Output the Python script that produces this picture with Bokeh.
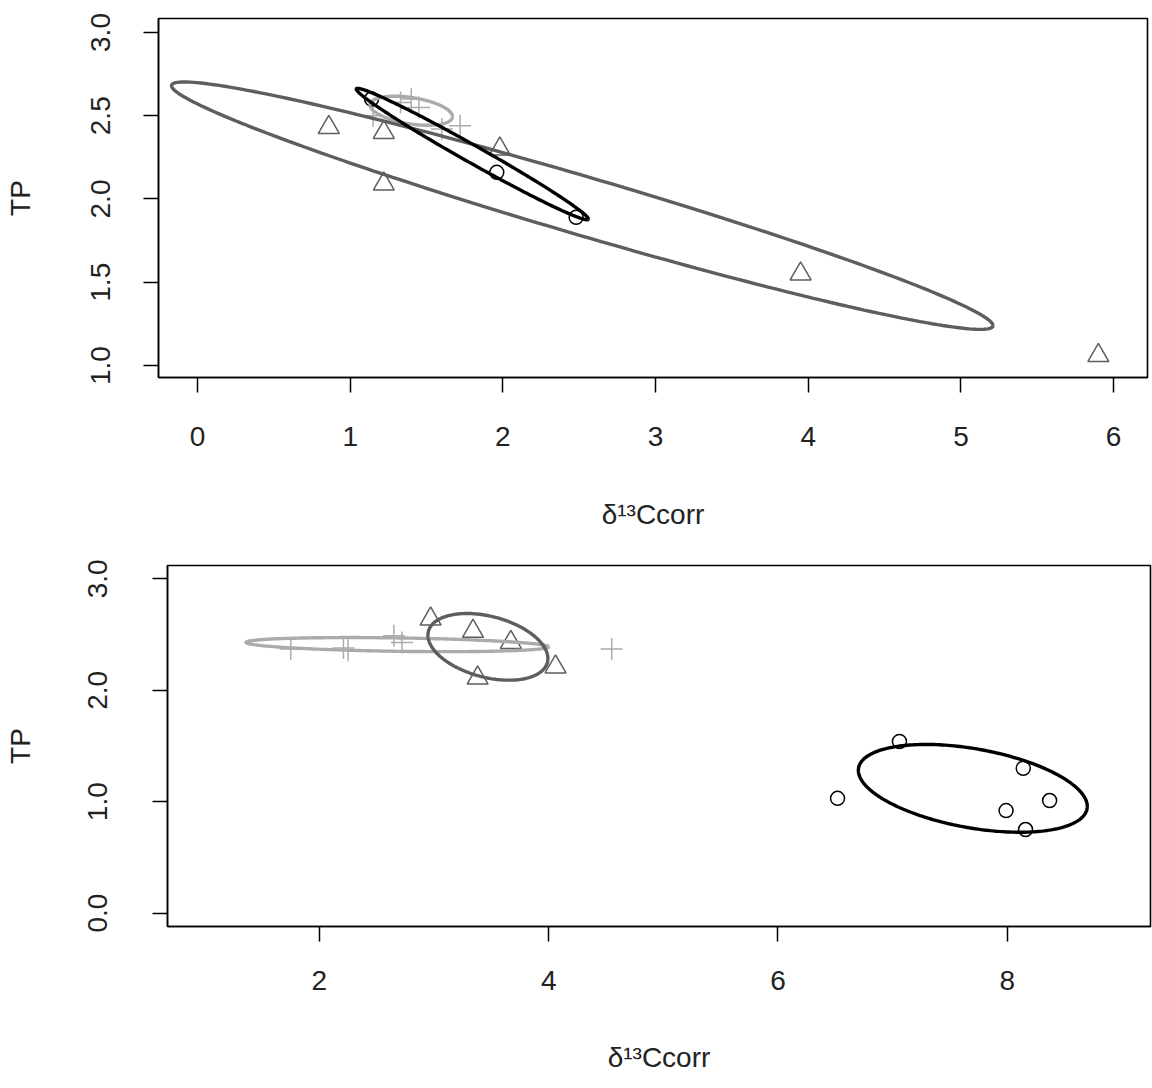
import numpy as np
from bokeh.plotting import figure
from bokeh.layouts import column
from bokeh.models import Range1d, FixedTicker
from bokeh.embed import file_html
from bokeh.resources import INLINE

# ---------------- Panel A (top) data ----------------
a_tri_x = [0.86, 1.22, 1.22, 1.98, 3.95, 5.90]
a_tri_y = [2.43, 2.40, 2.09, 2.30, 1.55, 1.06]
a_cross_x = [1.15, 1.33, 1.40, 1.45, 1.60, 1.72]
a_cross_y = [2.50, 2.58, 2.60, 2.55, 2.42, 2.44]
a_circ_x = [1.96, 2.48, 1.14]
a_circ_y = [2.16, 1.89, 2.60]
# ellipses: centre x, centre y, var x, var y, cov xy
a_ell_tri = (2.52, 1.96, 7.236, 0.5519, -1.937)
a_ell_cross = (1.40, 2.53, 0.0729, 0.007625, -0.00945)
a_ell_circ = (1.80, 2.27, 0.5776, 0.1557, -0.2964)
a_xticks = [0, 1, 2, 3, 4, 5, 6]
a_yticks = [1.0, 1.5, 2.0, 2.5, 3.0]
a_ylabels = ["1.0", "1.5", "2.0", "2.5", "3.0"]

# ---------------- Panel B (bottom) data ----------------
b_tri_x = [2.97, 3.34, 3.67, 3.38, 4.06]
b_tri_y = [2.64, 2.53, 2.43, 2.11, 2.21]
b_cross_x = [1.75, 2.21, 2.25, 2.65, 2.72, 4.55]
b_cross_y = [2.37, 2.38, 2.36, 2.49, 2.43, 2.37]
b_circ_x = [6.52, 7.06, 8.14, 7.99, 8.37, 8.16]
b_circ_y = [1.03, 1.54, 1.30, 0.92, 1.01, 0.75]
b_ell_tri = (3.47, 2.39, 0.2737, 0.0895, -0.0548)
b_ell_cross = (2.68, 2.41, 1.742, 0.004, -0.0264)
b_ell_circ = (7.70, 1.12, 0.9971, 0.1552, -0.1614)
b_xticks = [2, 4, 6, 8]
b_yticks = [0.0, 1.0, 2.0, 3.0]
b_ylabels = ["0.0", "1.0", "2.0", "3.0"]

DARK = "#5e5e5e"
LIGHT = "#ababab"
BLACK = "#000000"
FONT = "Liberation Sans"
TXT = "#222222"
FS = "28px"


def ellipse_pts(params, n=240):
    cx, cy, sxx, syy, sxy = params
    L = np.linalg.cholesky(np.array([[sxx, sxy], [sxy, syy]]))
    t = np.linspace(0, 2 * np.pi, n)
    pts = L @ np.vstack([np.cos(t), np.sin(t)])
    return cx + pts[0], cy + pts[1]


def style(p, xticks, yticks, ylabels):
    p.xgrid.visible = False
    p.ygrid.visible = False
    p.outline_line_color = "black"
    p.outline_line_width = 1.6
    p.background_fill_color = "white"
    p.border_fill_color = "white"
    for ax in (p.xaxis[0], p.yaxis[0]):
        ax.major_tick_in = 0
        ax.major_tick_out = 15
        ax.minor_tick_in = 0
        ax.minor_tick_out = 0
        ax.major_tick_line_color = "black"
        ax.major_tick_line_width = 1.5
        ax.axis_line_color = "black"
        ax.axis_line_width = 1.5
        ax.major_label_text_font = FONT
        ax.major_label_text_font_size = FS
        ax.major_label_text_color = TXT
        ax.axis_label_text_font = FONT
        ax.axis_label_text_font_size = FS
        ax.axis_label_text_font_style = "normal"
        ax.axis_label_text_color = TXT
    p.xaxis.ticker = FixedTicker(ticks=xticks)
    p.yaxis.ticker = FixedTicker(ticks=yticks)
    p.yaxis.major_label_overrides = {float(v): l for v, l in zip(yticks, ylabels)}
    p.yaxis.major_label_orientation = "vertical"
    p.xaxis.axis_label = "δ¹³Ccorr"
    p.yaxis.axis_label = "TP"


def draw(p, tx, ty, cx_, cy_, ox, oy, e_tri, e_cross, e_circ):
    p.scatter(tx, ty, marker="triangle", size=21, fill_color=None,
              line_color=DARK, line_width=1.5)
    p.scatter(cx_, cy_, marker="cross", size=22, line_color=LIGHT, line_width=1.5)
    p.scatter(ox, oy, marker="circle", size=14, fill_color=None,
              line_color=BLACK, line_width=1.5)
    ex, ey = ellipse_pts(e_cross)
    p.line(ex, ey, line_color=LIGHT, line_width=3.4)
    ex, ey = ellipse_pts(e_tri)
    p.line(ex, ey, line_color=DARK, line_width=3.4)
    ex, ey = ellipse_pts(e_circ)
    p.line(ex, ey, line_color=BLACK, line_width=3.4)


# ---------------- top figure ----------------
p1 = figure(width=1152, height=540, output_backend="svg", toolbar_location=None,
            x_range=Range1d(-0.2555, 6.222), y_range=Range1d(0.928, 3.084),
            min_border_left=158, min_border_right=5, min_border_top=18,
            min_border_bottom=163, frame_align=False)
style(p1, a_xticks, a_yticks, a_ylabels)
p1.xaxis.major_label_standoff = 34
p1.xaxis.axis_label_standoff = 50
p1.yaxis.major_label_standoff = 33
p1.yaxis.axis_label_standoff = 53
draw(p1, a_tri_x, a_tri_y, a_cross_x, a_cross_y, a_circ_x, a_circ_y,
     a_ell_tri, a_ell_cross, a_ell_circ)

# ---------------- bottom figure ----------------
p2 = figure(width=1152, height=546, output_backend="svg", toolbar_location=None,
            x_range=Range1d(0.675, 9.25), y_range=Range1d(-0.12, 3.12),
            min_border_left=167, min_border_right=2, min_border_top=25,
            min_border_bottom=160, frame_align=False)
style(p2, b_xticks, b_yticks, b_ylabels)
p2.xaxis.major_label_standoff = 29
p2.xaxis.axis_label_standoff = 49
p2.yaxis.major_label_standoff = 45
p2.yaxis.axis_label_standoff = 50
draw(p2, b_tri_x, b_tri_y, b_cross_x, b_cross_y, b_circ_x, b_circ_y,
     b_ell_tri, b_ell_cross, b_ell_circ)

layout = column(p1, p2, spacing=0)
open("out.html", "w").write(file_html(layout, INLINE))
